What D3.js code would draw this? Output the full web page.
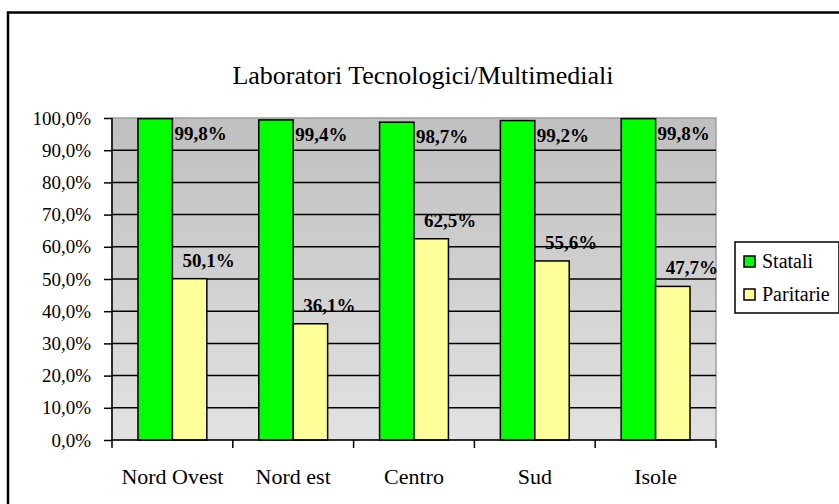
<!DOCTYPE html>
<html>
<head>
<meta charset="utf-8">
<script src="https://cdn.jsdelivr.net/npm/d3@7"></script>
<style>
  body { margin: 0; background: #fff; }
  svg { display: block; font-family: "Liberation Serif", "Times New Roman", serif; }
</style>
</head>
<body>
<svg id="chart" width="839" height="504"></svg>
<script>
const categories = ["Nord Ovest", "Nord est", "Centro", "Sud", "Isole"];
const statali = [99.8, 99.4, 98.7, 99.2, 99.8];
const paritarie = [50.1, 36.1, 62.5, 55.6, 47.7];
const yTicks = [0, 10, 20, 30, 40, 50, 60, 70, 80, 90, 100];
const seriesNames = ["Statali", "Paritarie"];
const seriesColors = ["#00ff00", "#ffff99"];

const fmt = v => v.toFixed(1).replace(".", ",") + "%";

const plot = { left: 112, right: 716, top: 118, bottom: 440 };

const svg = d3.select("#chart");

// outer chart frame
svg.append("rect")
  .attr("x", 8).attr("y", 12.5)
  .attr("width", 850).attr("height", 520)
  .attr("fill", "#fff")
  .attr("stroke", "#000")
  .attr("stroke-width", 2.5);

// gray gradient for the plot area
const grad = svg.append("defs").append("linearGradient")
  .attr("id", "bg").attr("x1", 0).attr("y1", 0).attr("x2", 0).attr("y2", 1);
grad.append("stop").attr("offset", "0%").attr("stop-color", "#bfbfbf");
grad.append("stop").attr("offset", "100%").attr("stop-color", "#e2e2e2");

svg.append("text")
  .attr("x", 423).attr("y", 84)
  .attr("text-anchor", "middle")
  .style("font-size", "26px")
  .text("Laboratori Tecnologici/Multimediali");

const x0 = d3.scaleBand().domain(categories).range([plot.left, plot.right]);
const y = d3.scaleLinear().domain([0, 100]).range([plot.bottom, plot.top]);

svg.append("rect")
  .attr("x", plot.left).attr("y", plot.top)
  .attr("width", plot.right - plot.left).attr("height", plot.bottom - plot.top)
  .attr("fill", "url(#bg)")
  .attr("stroke", "#a0a0a0")
  .attr("stroke-width", 1.5);

// gridlines
svg.append("g")
  .selectAll("line")
  .data(yTicks.filter(t => t > 0 && t < 100))
  .join("line")
  .attr("x1", plot.left).attr("x2", plot.right)
  .attr("y1", d => y(d)).attr("y2", d => y(d))
  .attr("stroke", "#000")
  .attr("stroke-width", 1.5);

// bars
const bw = x0.bandwidth();
const barW = bw * 0.285;
const barOff = bw * 0.215;
const series = [statali, paritarie];

series.forEach((vals, s) => {
  svg.append("g")
    .selectAll("rect")
    .data(vals)
    .join("rect")
    .attr("x", (d, i) => x0(categories[i]) + barOff + s * barW)
    .attr("y", d => y(d))
    .attr("width", barW)
    .attr("height", d => y(0) - y(d))
    .attr("fill", seriesColors[s])
    .attr("stroke", "#000")
    .attr("stroke-width", 1.5);
});

// value labels
svg.append("g")
  .selectAll("text")
  .data(statali)
  .join("text")
  .attr("x", (d, i) => x0(categories[i]) + barOff + barW + 2)
  .attr("y", d => y(d) + 21)
  .style("font-size", "19px")
  .style("font-weight", "bold")
  .text(fmt);

svg.append("g")
  .selectAll("text")
  .data(paritarie)
  .join("text")
  .attr("x", (d, i) => x0(categories[i]) + barOff + barW * 1.5 + 19)
  .attr("y", d => y(d) - 12)
  .attr("text-anchor", "middle")
  .style("font-size", "19px")
  .style("font-weight", "bold")
  .text(fmt);

// y axis
const yAxis = svg.append("g")
  .attr("transform", `translate(${plot.left},0)`)
  .call(d3.axisLeft(y).tickValues(yTicks).tickSize(8).tickPadding(13).tickFormat(fmt))
  .attr("font-family", null)
  .attr("font-size", null);
yAxis.select(".domain").attr("stroke-width", 1.5).attr("d", `M0,${plot.top}V${plot.bottom}`);
yAxis.selectAll(".tick line").attr("stroke-width", 1.5);
yAxis.selectAll("text")
  .style("font-size", "19px")
  .attr("fill", "#000");

// x axis
const xAxis = svg.append("g")
  .attr("transform", `translate(0,${plot.bottom})`)
  .call(d3.axisBottom(x0).tickSize(0).tickPadding(28))
  .attr("font-family", null)
  .attr("font-size", null);
xAxis.select(".domain").attr("stroke-width", 1.5).attr("d", `M${plot.left},0H${plot.right}`);
xAxis.selectAll("text")
  .style("font-size", "22px")
  .attr("fill", "#000");
// ticks between categories
xAxis.append("g")
  .selectAll("line")
  .data(categories.map(c => x0(c)).concat([plot.right]))
  .join("line")
  .attr("x1", d => d).attr("x2", d => d)
  .attr("y1", 0).attr("y2", 8)
  .attr("stroke", "#000")
  .attr("stroke-width", 1.5);

// legend
const legend = svg.append("g").attr("transform", "translate(735,242)");
legend.append("rect")
  .attr("width", 104).attr("height", 71)
  .attr("fill", "#fff")
  .attr("stroke", "#000")
  .attr("stroke-width", 1.5);
const item = legend.selectAll("g.item")
  .data(seriesNames)
  .join("g")
  .attr("class", "item")
  .attr("transform", (d, i) => `translate(9,${14 + i * 33})`);
item.append("rect")
  .attr("width", 11).attr("height", 11)
  .attr("fill", (d, i) => seriesColors[i])
  .attr("stroke", "#000")
  .attr("stroke-width", 1.5);
item.append("text")
  .attr("x", 18).attr("y", 12)
  .style("font-size", "20px")
  .text(d => d);
</script>
</body>
</html>
